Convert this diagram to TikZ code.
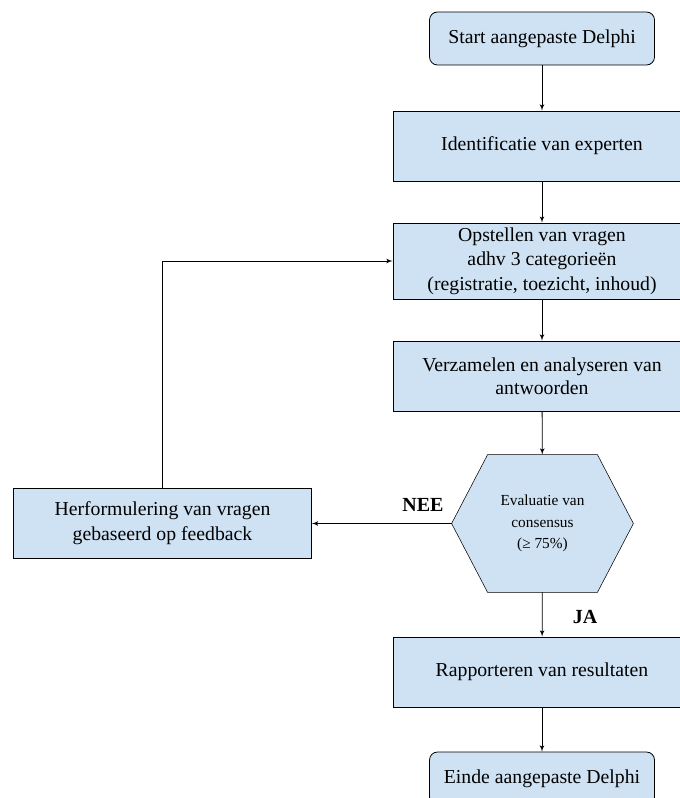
\documentclass[tikz,border=0pt]{standalone}
\usepackage{fontspec}
\setmainfont{Liberation Serif}
\usetikzlibrary{arrows,backgrounds}

\definecolor{boxblue}{HTML}{CFE2F3}

\begin{document}
\begin{tikzpicture}[x=0.75pt,y=-0.75pt,line width=0.6pt]

                    \tikzset{block/.style = {shape=rectangle,draw,fill=boxblue,minimum width=223.5pt,minimum height=52.5pt,align=center,font=\fontsize{14.8}{17.5}\selectfont}}
                    \tikzset{term/.style = {block,rounded corners=6pt,minimum width=168.75pt,minimum height=39.75pt}}
                    \tikzset{hexa/.style = {shape=rectangle,minimum width=135.75pt,minimum height=102.75pt,align=center,font=\fontsize{11.5}{16}\selectfont}}
                    \tikzset{hexline/.style = {draw,fill=boxblue}}
                    \tikzset{edge/.style = {->,> = latex'}}
                    \tikzset{answer/.style = {font=\fontsize{15}{18}\selectfont\bfseries}}

                    \useasboundingbox (0,0) rectangle (679,798);

                    \node[term] (start) at (542,38.5) {Start aangepaste Delphi};
                    \node[block] (ident) at (542,146) {Identificatie van experten};
                    \node[block,font=\fontsize{14.8}{18.4}\selectfont] (opst) at (542,261) {Opstellen van vragen\\adhv 3 categorieën\\(registratie, toezicht, inhoud)};
                    \node[block] (verz) at (542,376) {Verzamelen en analyseren van\\antwoorden};
                    \node[hexa] (eval) at (542.5,523.5) {Evaluatie van\\consensus\\(≥ 75\%)};
                    \node[block,font=\fontsize{14.8}{19}\selectfont] (herf) at (162.5,523.5) {Herformulering van vragen\\gebaseerd op feedback};
                    \node[block] (rapp) at (542,672) {Rapporteren van resultaten};
                    \node[term] (einde) at (542,778.5) {Einde aangepaste Delphi};

                    \begin{scope}[on background layer]
                    \draw[hexline] (eval.west) -- ([xshift=27pt]eval.north west) -- ([xshift=-27pt]eval.north east) -- (eval.east) -- ([xshift=-27pt]eval.south east) -- ([xshift=27pt]eval.south west) -- cycle;
                    \end{scope}

                    \node[answer] (nee) at (423,505) {NEE};
                    \node[answer] (ja) at (585,617) {JA};

                    \draw[edge] (start) to (ident);
                    \draw[edge] (ident) to (opst);
                    \draw[edge] (opst) to (verz);
                    \draw[edge] (verz) to (eval);
                    \draw[edge] (eval) to (herf);
                    \draw[edge] (eval) to (rapp);
                    \draw[edge] (rapp) to (einde);
                    \draw[edge] (herf) |- (opst);

\end{tikzpicture}
\end{document}
